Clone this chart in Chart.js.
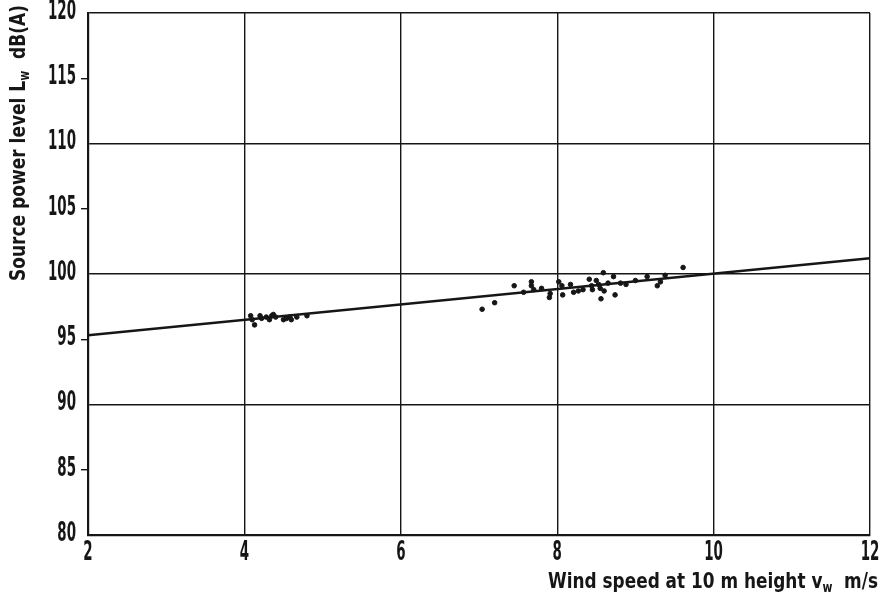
<!DOCTYPE html>
<html>
<head>
<meta charset="utf-8">
<script src="https://cdn.jsdelivr.net/npm/chart.js@4.4.1/dist/chart.umd.min.js"></script>
<style>
html,body{margin:0;padding:0;background:#fff;}
#wrap{width:885px;height:601px;position:relative;}
</style>
</head>
<body>
<div id="wrap"><canvas id="c" width="885" height="601"></canvas></div>
<script>
// Measured points (wind speed m/s, source power level dB(A))
const lowWindSpeed = [4.08, 4.10, 4.13, 4.20, 4.22, 4.28, 4.32, 4.35, 4.37, 4.40, 4.50, 4.54, 4.58, 4.60, 4.67, 4.80];
const lowLevel     = [96.8, 96.5, 96.1, 96.8, 96.6, 96.7, 96.5, 96.8, 96.9, 96.7, 96.5, 96.6, 96.7, 96.5, 96.7, 96.8];
const highWindSpeed = [7.04, 7.20, 7.45, 7.57, 7.67, 7.67, 7.70, 7.80, 7.90, 7.91, 8.02, 8.06, 8.07, 8.17, 8.21, 8.27, 8.33, 8.41, 8.44, 8.45, 8.50, 8.53, 8.55, 8.56, 8.59, 8.60, 8.65, 8.72, 8.74, 8.81, 8.88, 9.00, 9.15, 9.28, 9.32, 9.38, 9.61];
const highLevel     = [97.3, 97.8, 99.1, 98.6, 99.4, 99.1, 98.8, 98.9, 98.2, 98.5, 99.4, 99.1, 98.4, 99.2, 98.6, 98.7, 98.8, 99.6, 99.1, 98.8, 99.5, 99.2, 98.9, 98.1, 100.1, 98.7, 99.3, 99.8, 98.4, 99.3, 99.2, 99.5, 99.8, 99.1, 99.4, 99.9, 100.5];
// Regression line end points
const fitWindSpeed = [2, 12];
const fitLevel     = [95.3, 101.2];
// Axis ticks
const xTickValues = [2, 4, 6, 8, 10, 12];
const yTickValues = [80, 85, 90, 95, 100, 105, 110, 115, 120];
// Axis titles (main text / subscript / rest)
const xTitleParts = ['Wind speed at 10 m height v', 'w', '  m/s'];
const yTitleParts = ['Source power level L', 'w', '  dB(A)'];

const FONT = "'DejaVu Sans Condensed','Liberation Sans Narrow',sans-serif";
const INK = '#161616';

const toPts = (xs, ys) => xs.map((x, i) => ({x: x, y: ys[i]}));

function squeezed(ctx, text, x, y, sx) {
  ctx.save();
  ctx.translate(x, y);
  ctx.scale(sx, 1);
  ctx.fillText(text, 0, 0);
  ctx.restore();
}

const textPlugin = {
  id: 'condensedText',
  afterDraw(chart) {
    const ctx = chart.ctx;
    ctx.save();
    ctx.fillStyle = INK;
    // ---- tick labels ----
    ctx.font = 'bold 26px ' + FONT;
    const sx = 28 / ctx.measureText('120').width;
    const xs = chart.scales.x, ys = chart.scales.y;
    ctx.textBaseline = 'middle';
    ctx.textAlign = 'center';
    xs.ticks.forEach(t => {
      squeezed(ctx, String(t.value), xs.getPixelForValue(t.value), 553, sx);
    });
    ctx.textAlign = 'right';
    ys.ticks.forEach(t => {
      squeezed(ctx, String(t.value), 76, ys.getPixelForValue(t.value) - 1, sx);
    });
    // ---- axis titles ----
    ctx.textAlign = 'left';
    ctx.textBaseline = 'alphabetic';
    function drawTitle(parts, size, x, y, target) {
      const fonts = ['bold ' + size + 'px ' + FONT, 'bold ' + Math.round(size * 0.62) + 'px ' + FONT, 'bold ' + size + 'px ' + FONT];
      const widths = parts.map((p, i) => { ctx.font = fonts[i]; return ctx.measureText(p).width; });
      const total = widths.reduce((a, b) => a + b, 0);
      const k = target / total;
      ctx.save();
      ctx.translate(x, y);
      ctx.scale(k, 1);
      let cx = 0;
      parts.forEach((p, i) => {
        ctx.font = fonts[i];
        ctx.fillText(p, cx, i === 1 ? size * 0.2 : 0);
        cx += widths[i];
      });
      ctx.restore();
    }
    drawTitle(xTitleParts, 22, 548, 588, 330);
    ctx.save();
    ctx.translate(25, 281);
    ctx.rotate(-Math.PI / 2);
    drawTitle(yTitleParts, 22, 0, 0, 276);
    ctx.restore();
    ctx.restore();
  }
};

new Chart(document.getElementById('c'), {
  type: 'scatter',
  data: {
    datasets: [
      {
        label: 'fit',
        type: 'line',
        data: toPts(fitWindSpeed, fitLevel),
        borderColor: INK,
        borderWidth: 2.5,
        pointRadius: 0,
        fill: false,
        order: 2
      },
      {
        label: 'low wind',
        data: toPts(lowWindSpeed, lowLevel),
        backgroundColor: INK,
        borderColor: INK,
        pointRadius: 2.3,
        order: 1
      },
      {
        label: 'high wind',
        data: toPts(highWindSpeed, highLevel),
        backgroundColor: INK,
        borderColor: INK,
        pointRadius: 2.3,
        order: 1
      }
    ]
  },
  options: {
    responsive: false,
    animation: false,
    layout: {padding: {top: 13, right: 15, left: 0, bottom: 0}},
    plugins: {legend: {display: false}, tooltip: {enabled: false}},
    scales: {
      x: {
        type: 'linear',
        min: 2, max: 12,
        afterFit(s) { s.height = 66; },
        afterBuildTicks(s) { s.ticks = xTickValues.map(v => ({value: v})); },
        ticks: {display: false},
        grid: {color: INK, lineWidth: 1.4, drawTicks: false},
        border: {color: INK, width: 2.2}
      },
      y: {
        type: 'linear',
        min: 80, max: 120,
        afterFit(s) { s.width = 88; },
        afterBuildTicks(s) { s.ticks = yTickValues.map(v => ({value: v})); },
        ticks: {display: false},
        grid: {
          color: c => (c.tick && c.tick.value % 10 === 0) ? INK : 'rgba(0,0,0,0)',
          tickColor: c => (c.tick && c.tick.value % 10 !== 0) ? INK : 'rgba(0,0,0,0)',
          lineWidth: 1.4,
          tickLength: 7,
          drawTicks: true
        },
        border: {color: INK, width: 2.2}
      }
    }
  },
  plugins: [textPlugin]
});
</script>
</body>
</html>
